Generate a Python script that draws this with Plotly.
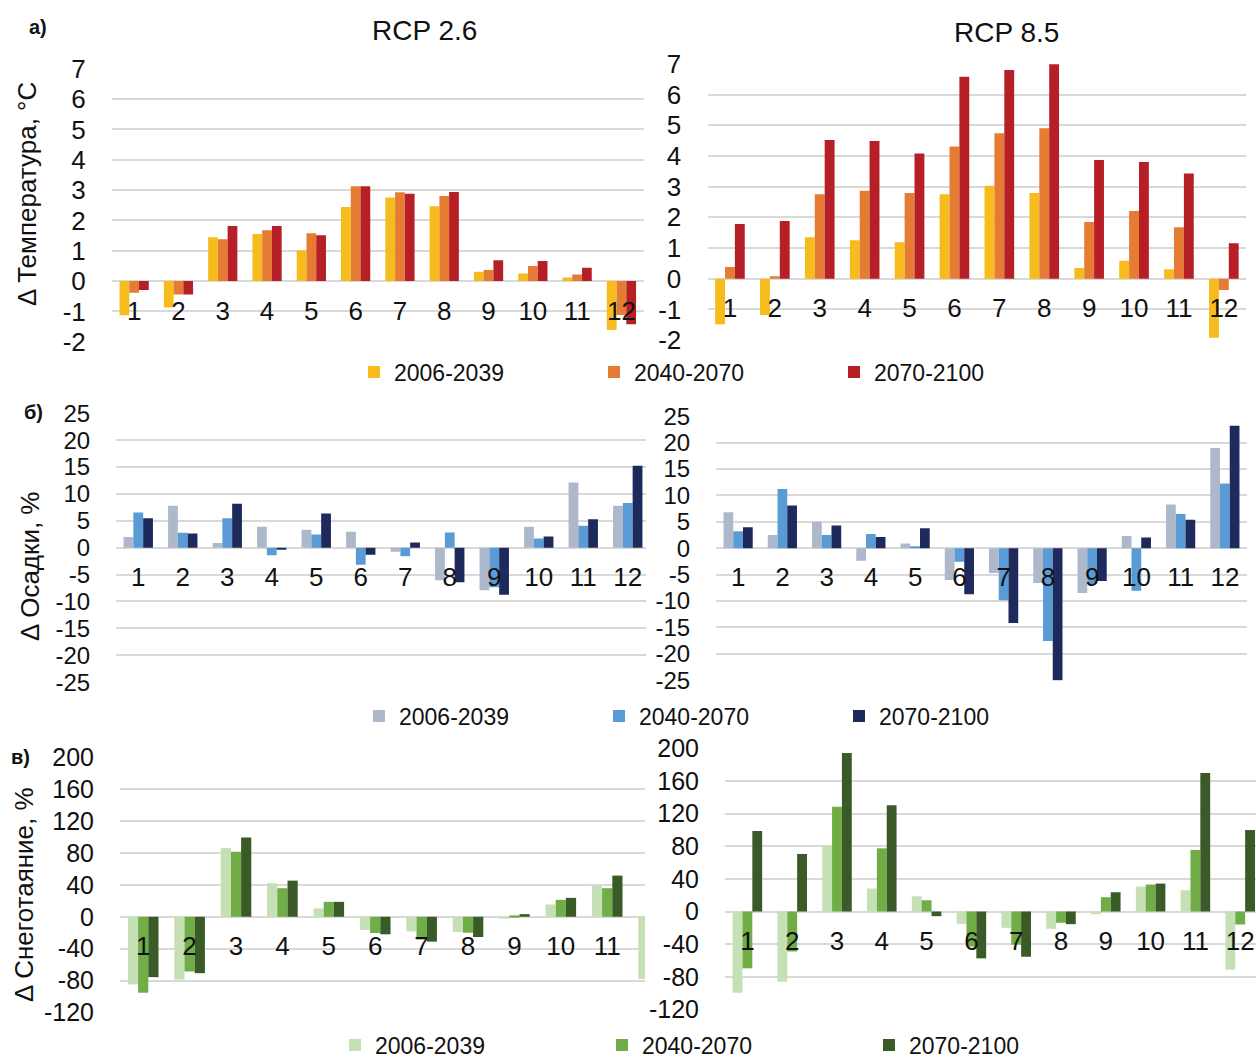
import plotly.graph_objects as go

# ---------------- data ----------------
months = list(range(1, 13))
month_labels = [str(m) for m in months]
periods = ["2006-2039", "2040-2070", "2070-2100"]

temp_ticks = [-2, -1, 0, 1, 2, 3, 4, 5, 6, 7]
prec_ticks = [-25, -20, -15, -10, -5, 0, 5, 10, 15, 20, 25]
snow_ticks = [-120, -80, -40, 0, 40, 80, 120, 160, 200]

temp_rcp26_p1 = [-1.13, -0.87, 1.45, 1.55, 1.01, 2.44, 2.76, 2.47, 0.31, 0.25, 0.12, -1.61]
temp_rcp26_p2 = [-0.38, -0.44, 1.38, 1.68, 1.58, 3.13, 2.93, 2.81, 0.37, 0.50, 0.22, -1.12]
temp_rcp26_p3 = [-0.29, -0.44, 1.82, 1.82, 1.51, 3.13, 2.88, 2.94, 0.69, 0.66, 0.44, -1.42]

temp_rcp85_p1 = [-1.48, -1.18, 1.35, 1.25, 1.19, 2.75, 3.03, 2.79, 0.35, 0.59, 0.31, -1.92]
temp_rcp85_p2 = [0.38, 0.08, 2.75, 2.87, 2.79, 4.31, 4.74, 4.90, 1.85, 2.21, 1.68, -0.37]
temp_rcp85_p3 = [1.78, 1.88, 4.52, 4.49, 4.08, 6.58, 6.80, 6.99, 3.87, 3.80, 3.43, 1.16]

prec_rcp26_p1 = [1.98, 7.78, 0.86, 3.89, 3.33, 2.96, -0.74, -6.05, -7.90, 3.89, 12.1, 7.78]
prec_rcp26_p2 = [6.54, 2.78, 5.49, -1.42, 2.47, -3.15, -1.60, 2.84, -7.35, 1.73, 4.07, 8.33]
prec_rcp26_p3 = [5.49, 2.65, 8.15, -0.37, 6.36, -1.30, 0.99, -6.42, -8.77, 2.10, 5.31, 15.25]

prec_rcp85_p1 = [6.8, 2.5, 5.03, -2.39, 0.88, -6.04, -4.72, -6.6, -8.5, 2.33, 8.3, 19.0]
prec_rcp85_p2 = [3.2, 11.2, 2.5, 2.7, 0.38, -2.58, -9.87, -17.6, -6.8, -8.05, 6.48, 12.26]
prec_rcp85_p3 = [3.96, 8.1, 4.28, 2.14, 3.77, -8.74, -14.15, -25.0, -6.23, 2.01, 5.41, 23.2]

snow_rcp26_p1 = [-84.8, -78.6, 86.1, 42.0, 10.4, -16.6, -18.3, -19.1, -1.2, 15.4, 38.7, -78.0]
snow_rcp26_p2 = [-95.2, -68.6, 81.5, 35.8, 18.7, -20.4, -28.7, -20.0, 1.7, 21.2, 35.8, None]
snow_rcp26_p3 = [-75.7, -70.7, 99.4, 45.3, 18.7, -22.0, -31.2, -25.4, 3.3, 23.7, 51.6, None]

snow_rcp85_p1 = [-99.5, -86.0, 81.1, 28.1, 18.7, -15.1, -20.0, -21.2, -3.3, 30.5, 26.1, -71.3]
snow_rcp85_p2 = [-69.6, -49.0, 128.3, 77.4, 13.8, -43.0, -40.6, -13.8, 17.5, 33.0, 75.4, -15.9]
snow_rcp85_p3 = [98.6, 70.5, 194.3, 130.3, -5.7, -57.4, -55.4, -15.5, 23.6, 34.2, 169.5, 99.8]

# ---------------- style / layout ----------------
W, H = 1256, 1059
FONT = "Liberation Sans, Arial, sans-serif"
TXT = "#111111"
GRID = "#D9D9D9"

temp_colors = ["#F6BC1E", "#E67C34", "#B71F26"]
prec_colors = ["#ADB9CA", "#5B9BD5", "#1F2A5C"]
snow_colors = ["#C5E0B4", "#70AD47", "#3A5B28"]


def px(x):
    return x / W


def py(y):
    return 1 - y / H


# panel geometry in pixels: left, right, top, bottom, category band width, tick font size
panels = [
    dict(series=[temp_rcp26_p1, temp_rcp26_p2, temp_rcp26_p3], colors=temp_colors,
         ticks=temp_ticks, x0=112, x1=644, yt=68.3, yb=342.3, band=44.3, fs=26, legend="legend"),
    dict(series=[temp_rcp85_p1, temp_rcp85_p2, temp_rcp85_p3], colors=temp_colors,
         ticks=temp_ticks, x0=707.5, x1=1246, yt=63.3, yb=340.7, band=44.9, fs=26, legend=None),
    dict(series=[prec_rcp26_p1, prec_rcp26_p2, prec_rcp26_p3], colors=prec_colors,
         ticks=prec_ticks, x0=116, x1=646, yt=412.7, yb=682.7, band=44.5, fs=24, legend="legend2"),
    dict(series=[prec_rcp85_p1, prec_rcp85_p2, prec_rcp85_p3], colors=prec_colors,
         ticks=prec_ticks, x0=716, x1=1247, yt=415.7, yb=680.7, band=44.25, fs=24, legend=None),
    dict(series=[snow_rcp26_p1, snow_rcp26_p2, snow_rcp26_p3], colors=snow_colors,
         ticks=snow_ticks, x0=120, x1=645, yt=756.7, yb=1013, band=46.4, fs=25, legend="legend3"),
    dict(series=[snow_rcp85_p1, snow_rcp85_p2, snow_rcp85_p3], colors=snow_colors,
         ticks=snow_ticks, x0=725, x1=1256, yt=747.7, yb=1010, band=44.8, fs=25, legend=None),
]

fig = go.Figure()
layout = dict(
    width=W, height=H, autosize=False,
    margin=dict(l=0, r=0, t=0, b=0, pad=0, autoexpand=False),
    paper_bgcolor="white", plot_bgcolor="white",
    font=dict(family=FONT, color=TXT, size=25),
    barmode="group", bargap=0.34, bargroupgap=0,
)

for i, p in enumerate(panels, start=1):
    xa = "x" if i == 1 else f"x{i}"
    ya = "y" if i == 1 else f"y{i}"
    for k, (vals, col) in enumerate(zip(p["series"], p["colors"])):
        tr = go.Bar(x=months, y=vals, name=periods[k], marker=dict(color=col, line=dict(width=0)),
                    xaxis=xa, yaxis=ya, showlegend=p["legend"] is not None)
        if p["legend"]:
            tr.legend = p["legend"]
        fig.add_trace(tr)

    ymin, ymax = min(p["ticks"]), max(p["ticks"])
    pad = (ymax - ymin) * 0.002
    ybot, ytop = py(p["yb"]), py(p["yt"])
    zero_pos = ybot + (0 - ymin) / (ymax - ymin) * (ytop - ybot)
    xmax = 0.5 + (p["x1"] - p["x0"]) / p["band"]
    layout["xaxis" if i == 1 else f"xaxis{i}"] = dict(
        domain=[px(p["x0"]), px(p["x1"])], range=[0.5, xmax],
        anchor="free", position=zero_pos, automargin=False,
        tickmode="array", tickvals=months, ticktext=month_labels,
        ticks="outside", ticklen=6, tickcolor="rgba(0,0,0,0)",
        showgrid=False, showline=False, zeroline=False,
        tickfont=dict(size=26, family=FONT, color=TXT),
        fixedrange=True,
    )
    layout["yaxis" if i == 1 else f"yaxis{i}"] = dict(
        domain=[ybot, ytop], range=[ymin - pad, ymax + pad], anchor=xa, automargin=False,
        tickmode="array", tickvals=p["ticks"], ticktext=[str(t) for t in p["ticks"]],
        ticks="outside", ticklen=20, tickcolor="rgba(0,0,0,0)",
        showgrid=True, gridcolor=GRID, gridwidth=2,
        zeroline=True, zerolinecolor=GRID, zerolinewidth=2,
        showline=False,
        tickfont=dict(size=p["fs"], family=FONT, color=TXT),
        fixedrange=True,
    )

legend_common = dict(orientation="h", xanchor="left", yanchor="middle",
                     font=dict(size=23, family=FONT, color=TXT),
                     bgcolor="rgba(0,0,0,0)", borderwidth=0,
                     itemwidth=30, entrywidthmode="pixels", traceorder="normal")
layout["legend"] = dict(legend_common, x=px(354), y=py(372), entrywidth=195)
layout["legend2"] = dict(legend_common, x=px(359), y=py(716), entrywidth=195)
layout["legend3"] = dict(legend_common, x=px(335), y=py(1045), entrywidth=222)

annotations = []


def add_text(text, x, y, size, bold=False, angle=0):
    annotations.append(dict(
        text=f"<b>{text}</b>" if bold else text,
        x=px(x), y=py(y), xref="paper", yref="paper",
        xanchor="center", yanchor="middle", showarrow=False, textangle=angle,
        font=dict(size=size, family=FONT, color=TXT)))


add_text("RCP 2.6", 424, 30, 28)
add_text("RCP 8.5", 1006, 32, 28)
add_text("а)", 38, 27, 20, bold=True)
add_text("б)", 33, 412, 20, bold=True)
add_text("в)", 20, 757, 20, bold=True)
add_text("Δ Температура, °C", 27, 194, 26, angle=-90)
add_text("Δ Осадки, %", 30, 567, 26, angle=-90)
add_text("Δ Снеготаяние, %", 24, 895, 26, angle=-90)
layout["annotations"] = annotations

fig.update_layout(**layout)
fig.write_html("out.html")
